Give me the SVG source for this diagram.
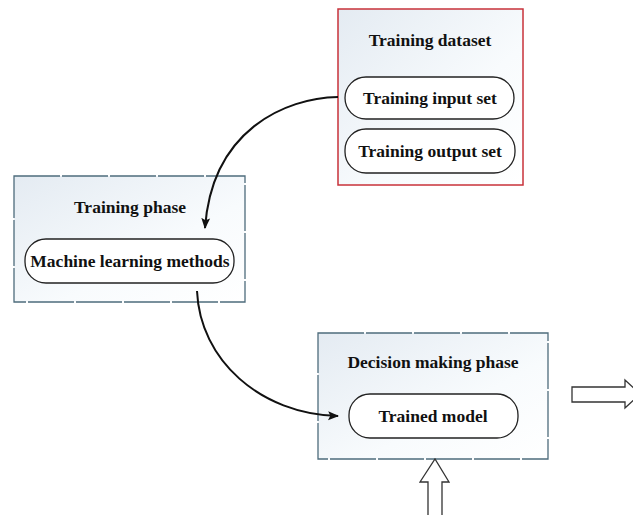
<svg xmlns="http://www.w3.org/2000/svg" width="633" height="515" viewBox="0 0 633 515">
<defs>
<linearGradient id="bg" x1="0" y1="0" x2="1" y2="1">
<stop offset="0" stop-color="#e4ebf2"/>
<stop offset="0.6" stop-color="#f8fbfd"/>
<stop offset="1" stop-color="#ffffff"/>
</linearGradient>
<marker id="ah" viewBox="0 0 10 10" refX="9" refY="5" markerWidth="11" markerHeight="11" orient="auto" markerUnits="userSpaceOnUse">
<path d="M0,1 L10,5 L0,9 L2,5 Z" fill="#111"/>
</marker>
</defs>
<style>
.phase{fill:url(#bg);stroke:#4e6c7c;stroke-width:1.3;stroke-dasharray:46 2}
.data{fill:url(#bg);stroke:#c8323a;stroke-width:1.5}
.pill{fill:#fff;stroke:#222;stroke-width:1.3}
.t{font-family:"Liberation Serif","Times New Roman",serif;font-weight:bold;font-size:17.5px;fill:#111;text-anchor:middle}
.conn{fill:none;stroke:#111;stroke-width:2}
.hollow{fill:#fff;stroke:#333;stroke-width:1.3}
</style>
<rect width="633" height="515" fill="#fff"/>
<g id="training-dataset">
<rect class="data" x="338" y="9" width="185" height="176"/>
<text class="t" x="430" y="46">Training dataset</text>
<rect class="pill" x="345" y="77" width="169" height="42" rx="21"/>
<text class="t" x="430" y="104">Training input set</text>
<rect class="pill" x="345" y="129" width="170" height="44" rx="21"/>
<text class="t" x="430" y="157">Training output set</text>
</g>
<g id="training-phase">
<rect class="phase" x="14" y="176" width="231" height="126"/>
<text class="t" x="130" y="213">Training phase</text>
<rect class="pill" x="25" y="239" width="209" height="44" rx="21"/>
<text class="t" x="130" y="267">Machine learning methods</text>
</g>
<g id="decision-phase">
<rect class="phase" x="318" y="333" width="230" height="126"/>
<text class="t" x="433" y="368">Decision making phase</text>
<rect class="pill" x="349" y="394" width="169" height="44" rx="21"/>
<text class="t" x="433" y="422">Trained model</text>
</g>
<g id="connectors">
<path class="conn" marker-end="url(#ah)" d="M338,97 C285,98 212,130 205,228"/>
<path class="conn" marker-end="url(#ah)" d="M197,291 C200,360 260,414 338,416"/>
<path class="hollow" d="M572,387 L625,387 L625,380 L640,394 L625,408 L625,402 L572,402 Z"/>
<path class="hollow" d="M428,520 L428,482 L420,482 L435,459 L449,482 L442,482 L442,520 Z"/>
</g>
</svg>
